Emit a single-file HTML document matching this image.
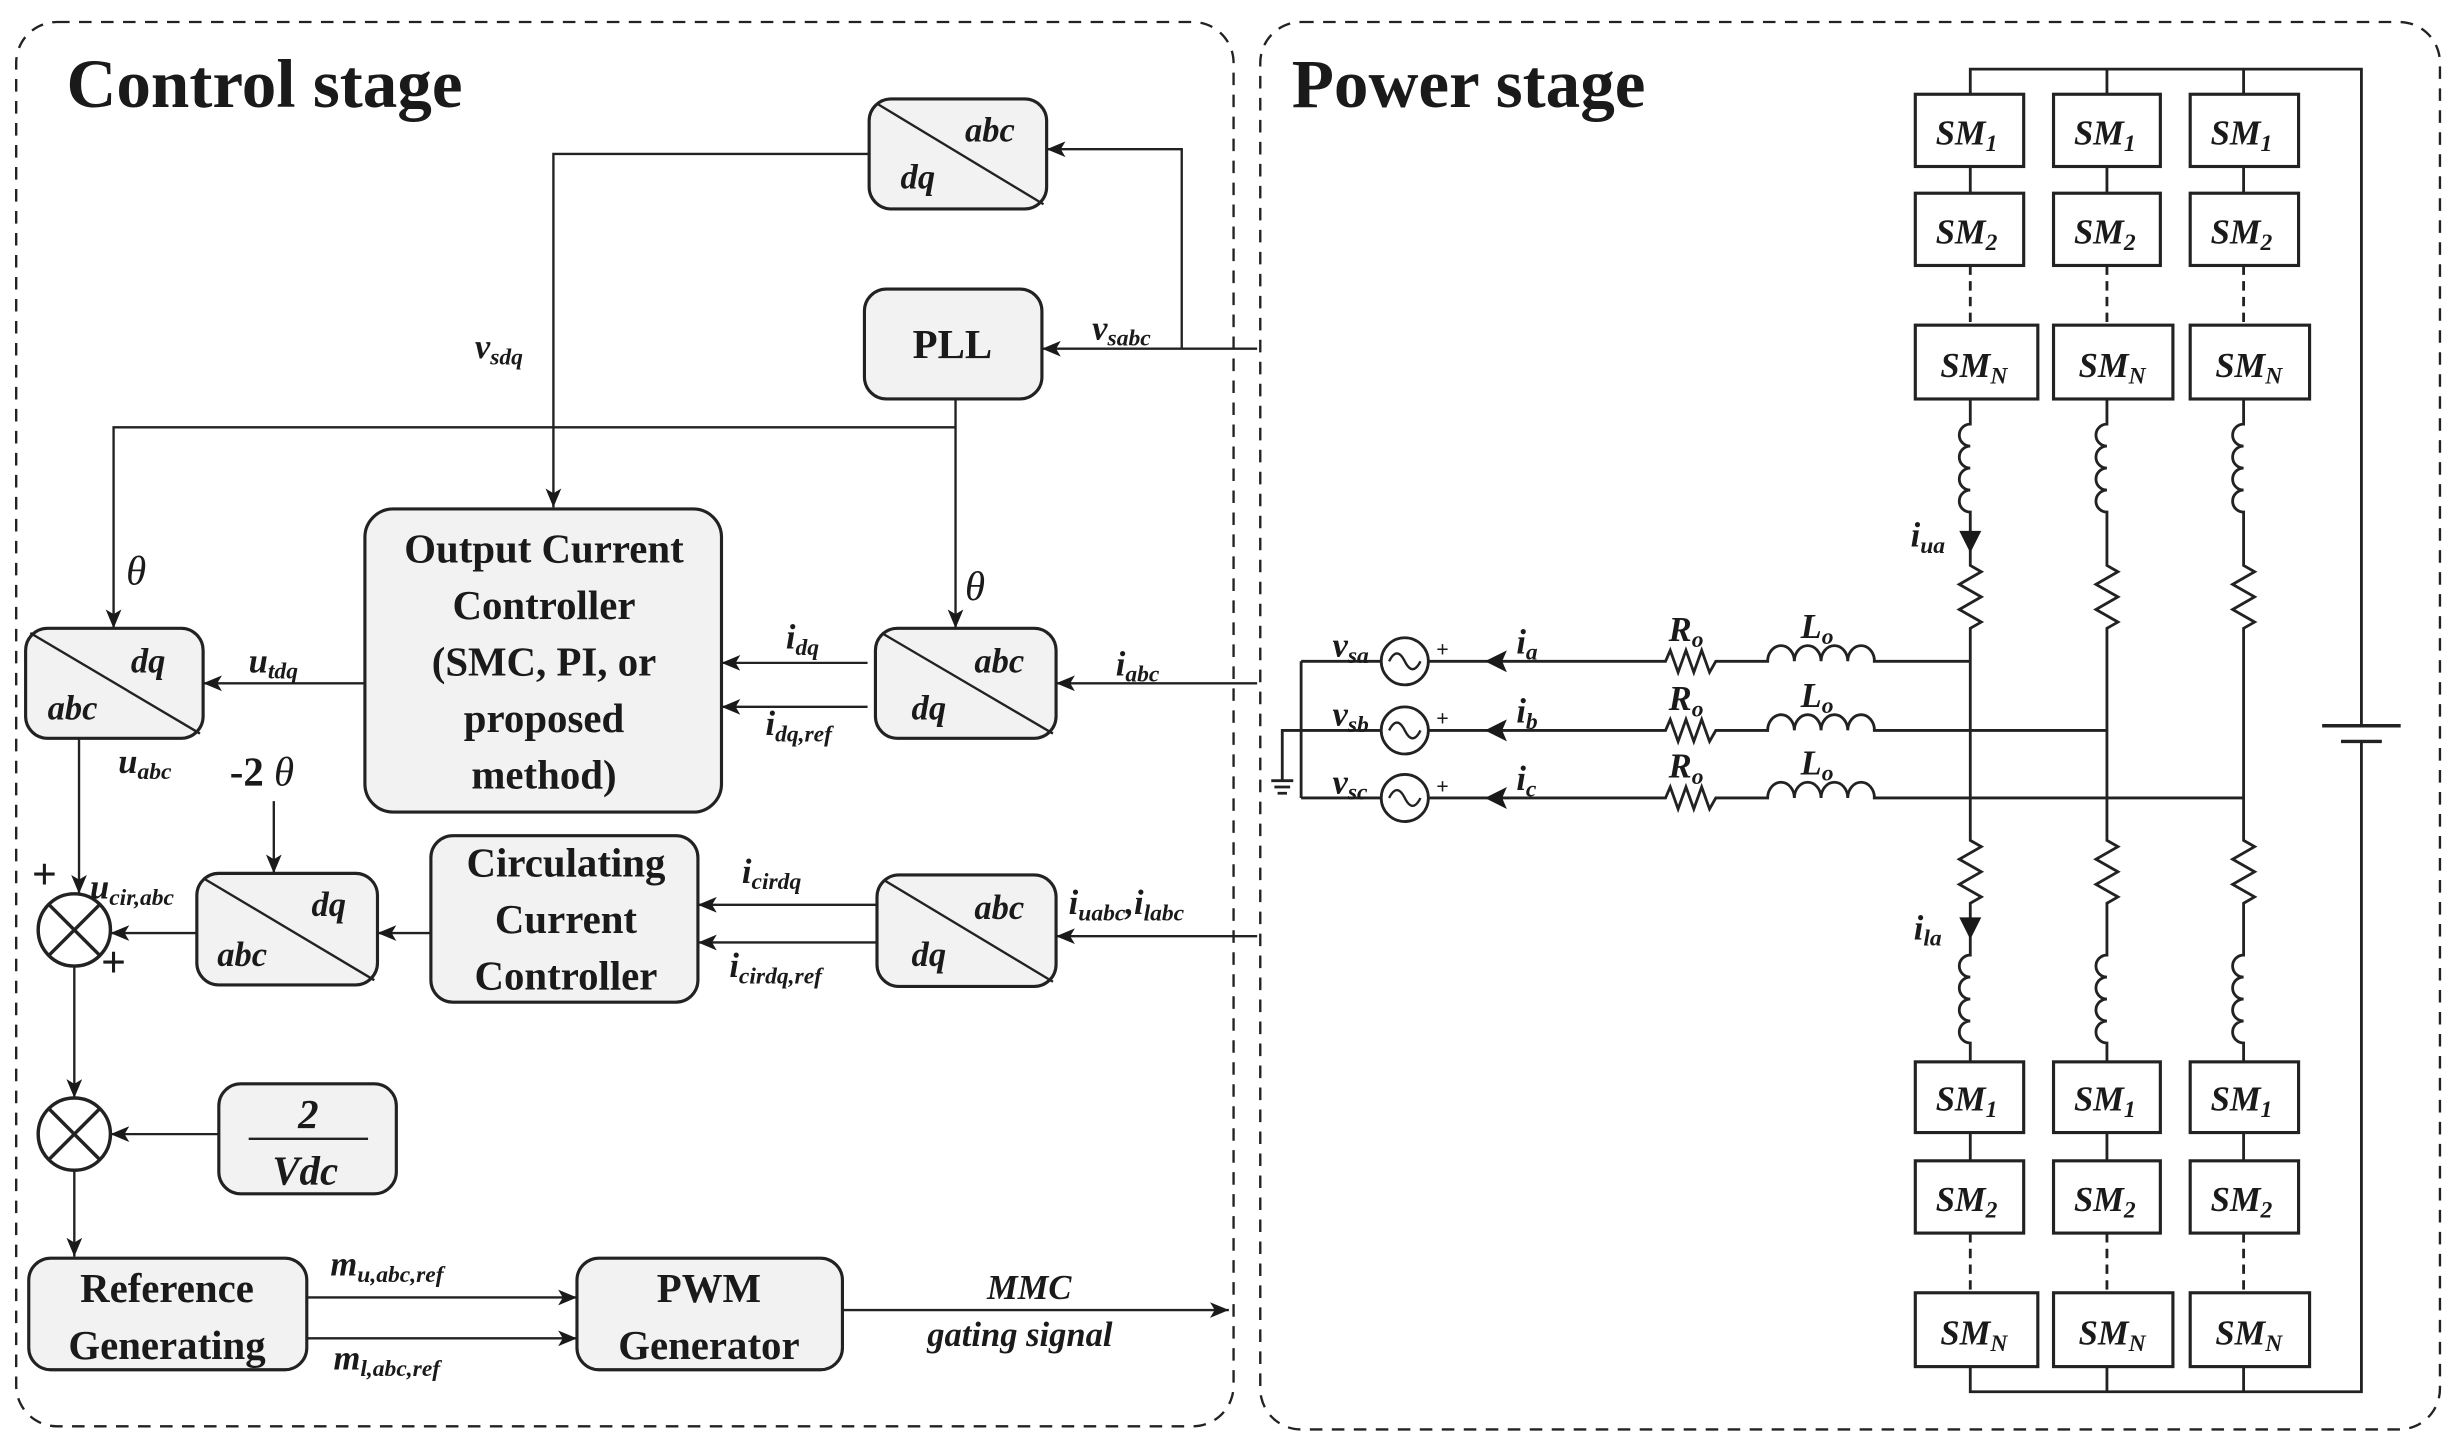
<!DOCTYPE html>
<html><head><meta charset="utf-8"><style>
html,body{margin:0;padding:0;background:#fff}
svg{display:block}
text{font-family:"Liberation Serif",serif;font-weight:bold;fill:#1a1a1a}
.t{font-size:26px;text-anchor:middle}
.i{font-style:italic;font-size:22px}
.s{font-size:15px}
</style></head><body>
<svg width="2464" height="1453" viewBox="0 0 1568 925" xmlns="http://www.w3.org/2000/svg">
<defs>
<marker id="a" viewBox="0 0 12 10" refX="12" refY="5" markerWidth="12" markerHeight="10" markerUnits="userSpaceOnUse" orient="auto"><path d="M0,0 L12,5 L0,10 L3,5 z" fill="#1a1a1a"/></marker>
</defs>
<g fill="none" stroke="#222" stroke-width="1.5" stroke-dasharray="8,6">
<rect x="10" y="14" width="775" height="894" rx="26"/>
<rect x="802" y="14" width="751" height="896" rx="26"/>
</g>
<text x="42" y="68" style="font-size:44px">Control stage</text>
<text x="822" y="68" style="font-size:44px">Power stage</text>

<g fill="#f2f2f2" stroke="#222" stroke-width="2">
<rect x="553" y="63" width="113" height="70" rx="14"/>
<rect x="550" y="184" width="113" height="70" rx="14"/>
<rect x="16" y="400" width="113" height="70" rx="14"/>
<rect x="232" y="324" width="227" height="193" rx="18"/>
<rect x="557" y="400" width="115" height="70" rx="14"/>
<rect x="125" y="556" width="115" height="71" rx="14"/>
<rect x="274" y="532" width="170" height="106" rx="14"/>
<rect x="558" y="557" width="114" height="71" rx="14"/>
<rect x="139" y="690" width="113" height="70" rx="14"/>
<rect x="18" y="801" width="177" height="71" rx="14"/>
<rect x="367" y="801" width="169" height="71" rx="14"/>
</g>
<g stroke="#222" stroke-width="1.5">
<line x1="558" y1="66" x2="664" y2="130"/>
<line x1="19" y1="403" x2="127" y2="467"/>
<line x1="561" y1="403" x2="670" y2="467"/>
<line x1="129" y1="559" x2="238" y2="624"/>
<line x1="562" y1="560" x2="670" y2="625"/>
<line x1="158" y1="725" x2="234" y2="725"/>
</g>
<text class="i" x="614" y="90">abc</text><text class="i" x="573" y="120">dq</text>
<text class="t" x="606" y="228">PLL</text>
<text class="i" x="83" y="428">dq</text><text class="i" x="30" y="458">abc</text>
<text class="i" x="620" y="428">abc</text><text class="i" x="580" y="458">dq</text>
<text class="i" x="198" y="583">dq</text><text class="i" x="138" y="615">abc</text>
<text class="i" x="620" y="585">abc</text><text class="i" x="580" y="615">dq</text>
<text class="t" x="346" y="358">Output Current</text>
<text class="t" x="346" y="394">Controller</text>
<text class="t" x="346" y="430">(SMC, PI, or</text>
<text class="t" x="346" y="466">proposed</text>
<text class="t" x="346" y="502">method)</text>
<text class="t" x="360" y="558">Circulating</text>
<text class="t" x="360" y="594">Current</text>
<text class="t" x="360" y="630">Controller</text>
<text class="t i" x="196" y="718" style="font-size:26px">2</text>
<text class="t i" x="194" y="754" style="font-size:26px">Vdc</text>
<text class="t" x="106" y="829">Reference</text>
<text class="t" x="106" y="865">Generating</text>
<text class="t" x="451" y="829">PWM</text>
<text class="t" x="451" y="865">Generator</text>

<g fill="none" stroke="#222" stroke-width="1.5" marker-end="url(#a)">
<polyline points="800,222 663,222"/>
<polyline points="752,222 752,95 666,95"/>
<polyline points="553,98 352,98 352,323"/>
<polyline points="608,254 608,272 608,400"/>
<polyline points="608,272 72,272 72,400"/>
<polyline points="232,435 129,435"/>
<polyline points="800,435 672,435"/>
<polyline points="552,422 459,422"/>
<polyline points="552,450 459,450"/>
<polyline points="50,470 50,569"/>
<polyline points="174,510 174,556"/>
<polyline points="800,596 672,596"/>
<polyline points="558,576 444,576"/>
<polyline points="558,600 444,600"/>
<polyline points="274,594 240,594"/>
<polyline points="125,594 70,594"/>
<polyline points="47,615 47,699"/>
<polyline points="139,722 70,722"/>
<polyline points="47,745 47,800"/>
<polyline points="195,826 367,826"/>
<polyline points="195,852 367,852"/>
<polyline points="536,834 782,834"/>
</g>
<g fill="#fff" stroke="#222" stroke-width="2.2">
<circle cx="47" cy="592" r="23"/><circle cx="47" cy="722" r="23"/>
</g>
<g stroke="#222" stroke-width="2.2">
<line x1="31" y1="576" x2="63" y2="608"/><line x1="63" y1="576" x2="31" y2="608"/>
<line x1="31" y1="706" x2="63" y2="738"/><line x1="63" y1="706" x2="31" y2="738"/>
</g>
<text x="20" y="566" style="font-size:28px">+</text>
<text x="64" y="622" style="font-size:28px">+</text>
<text class="i" x="695" y="216">v<tspan class="s" dy="4">sabc</tspan></text>
<text class="i" x="302" y="228">v<tspan class="s" dy="4">sdq</tspan></text>
<text class="i" x="80" y="372" style="font-size:26px;font-weight:normal">θ</text>
<text class="i" x="614" y="382" style="font-size:26px;font-weight:normal">θ</text>
<text class="i" x="158" y="428">u<tspan class="s" dy="4">tdq</tspan></text>
<text class="i" x="500" y="413">i<tspan class="s" dy="4">dq</tspan></text>
<text class="i" x="487" y="468">i<tspan class="s" dy="4">dq,ref</tspan></text>
<text class="i" x="710" y="430">i<tspan class="s" dy="4">abc</tspan></text>
<text class="i" x="75" y="492">u<tspan class="s" dy="4">abc</tspan></text>
<text x="146" y="500" style="font-size:26px">-2 <tspan style="font-style:italic;font-weight:normal">θ</tspan></text>
<text class="i" x="57" y="572">u<tspan class="s" dy="4">cir,abc</tspan></text>
<text class="i" x="472" y="562">i<tspan class="s" dy="4">cirdq</tspan></text>
<text class="i" x="464" y="622">i<tspan class="s" dy="4">cirdq,ref</tspan></text>
<text class="i" x="680" y="582">i<tspan class="s" dy="4">uabc</tspan><tspan dy="-4">,i</tspan><tspan class="s" dy="4">labc</tspan></text>
<text class="i" x="210" y="812">m<tspan class="s" dy="4">u,abc,ref</tspan></text>
<text class="i" x="212" y="872">m<tspan class="s" dy="4">l,abc,ref</tspan></text>
<text class="i" x="628" y="827">MMC</text>
<text class="i" x="590" y="857">gating signal</text>

<!-- power stage -->
<g fill="none" stroke="#222" stroke-width="1.8">
<polyline points="1254,60 1254,44 1503,44 1503,462"/>
<polyline points="1503,472 1503,886 1254,886 1254,870"/>
<line x1="1341" y1="44" x2="1341" y2="60"/><line x1="1428" y1="44" x2="1428" y2="60"/>
<line x1="1341" y1="886" x2="1341" y2="870"/><line x1="1428" y1="886" x2="1428" y2="870"/>
<line x1="1478" y1="462" x2="1528" y2="462" stroke-width="2.2"/>
<line x1="1490" y1="472" x2="1516" y2="472" stroke-width="2.2"/>
</g>
<g fill="#fff" stroke="#222" stroke-width="2">
<rect x="1219" y="60" width="69" height="46"/><rect x="1307" y="60" width="68" height="46"/><rect x="1394" y="60" width="69" height="46"/>
<rect x="1219" y="123" width="69" height="46"/><rect x="1307" y="123" width="68" height="46"/><rect x="1394" y="123" width="69" height="46"/>
<rect x="1219" y="207" width="78" height="47"/><rect x="1307" y="207" width="76" height="47"/><rect x="1394" y="207" width="76" height="47"/>
<rect x="1219" y="676" width="69" height="45"/><rect x="1307" y="676" width="68" height="45"/><rect x="1394" y="676" width="69" height="45"/>
<rect x="1219" y="739" width="69" height="46"/><rect x="1307" y="739" width="68" height="46"/><rect x="1394" y="739" width="69" height="46"/>
<rect x="1219" y="823" width="78" height="47"/><rect x="1307" y="823" width="76" height="47"/><rect x="1394" y="823" width="76" height="47"/>
</g>
<g>
<text class="i" x="1232" y="92">SM<tspan class="s" dy="4">1</tspan></text><text class="i" x="1320" y="92">SM<tspan class="s" dy="4">1</tspan></text><text class="i" x="1407" y="92">SM<tspan class="s" dy="4">1</tspan></text>
<text class="i" x="1232" y="155">SM<tspan class="s" dy="4">2</tspan></text><text class="i" x="1320" y="155">SM<tspan class="s" dy="4">2</tspan></text><text class="i" x="1407" y="155">SM<tspan class="s" dy="4">2</tspan></text>
<text class="i" x="1235" y="240">SM<tspan class="s" dy="4">N</tspan></text><text class="i" x="1323" y="240">SM<tspan class="s" dy="4">N</tspan></text><text class="i" x="1410" y="240">SM<tspan class="s" dy="4">N</tspan></text>
<text class="i" x="1232" y="707">SM<tspan class="s" dy="4">1</tspan></text><text class="i" x="1320" y="707">SM<tspan class="s" dy="4">1</tspan></text><text class="i" x="1407" y="707">SM<tspan class="s" dy="4">1</tspan></text>
<text class="i" x="1232" y="771">SM<tspan class="s" dy="4">2</tspan></text><text class="i" x="1320" y="771">SM<tspan class="s" dy="4">2</tspan></text><text class="i" x="1407" y="771">SM<tspan class="s" dy="4">2</tspan></text>
<text class="i" x="1235" y="856">SM<tspan class="s" dy="4">N</tspan></text><text class="i" x="1323" y="856">SM<tspan class="s" dy="4">N</tspan></text><text class="i" x="1410" y="856">SM<tspan class="s" dy="4">N</tspan></text>
</g>
<g fill="none" stroke="#222" stroke-width="1.8">
<path d="M1254,106V123M1341,106V123M1428,106V123M1254,721V739M1341,721V739M1428,721V739"/>
<path d="M1254,169V207M1341,169V207M1428,169V207M1254,785V823M1341,785V823M1428,785V823" stroke-dasharray="6,4"/>
</g>
<defs>
<g id="col">
<path fill="none" stroke="#222" stroke-width="1.8" d="M0,254V270 a7,7 0 0 0 0,14 a7,7 0 0 0 0,14 a7,7 0 0 0 0,14 a7,7 0 0 0 0,14 V360 l7,4 l-14,8 l14,8 l-14,8 l14,8 l-7,4 V535 l7,4 l-14,8 l14,8 l-14,8 l14,8 l-7,4 V608 a7,7 0 0 0 0,14 a7,7 0 0 0 0,14 a7,7 0 0 0 0,14 a7,7 0 0 0 0,14 V676"/>
</g>
<g id="ph">
<path fill="none" stroke="#222" stroke-width="1.8" d="M908,0H1060 l3,-7 l5,14 l5,-14 l5,14 l5,-14 l5,14 l4,-7 H1125 a8.5,10 0 0 1 17,0 a8.5,10 0 0 1 17,0 a8.5,10 0 0 1 17,0 a8.5,10 0 0 1 17,0"/>
<path d="M945,0 l14,-7 l-3,7 l3,7z" fill="#1a1a1a"/>
<circle cx="894" cy="0" r="15" fill="#fff" stroke="#222" stroke-width="1.8"/>
<path d="M884,0 q5,-10 10,0 t10,0" fill="none" stroke="#222" stroke-width="1.5"/>
<line x1="828" y1="0" x2="879" y2="0" stroke="#222" stroke-width="1.8"/>
<text x="914" y="-3" style="font-size:14px">+</text>
<text class="i" x="1062" y="-13">R<tspan class="s" dy="4">o</tspan></text>
<text class="i" x="1146" y="-15">L<tspan class="s" dy="4">o</tspan></text>
</g>
</defs>
<use href="#col" x="1254"/><use href="#col" x="1341"/><use href="#col" x="1428"/>
<use href="#ph" y="421"/><use href="#ph" y="465"/><use href="#ph" y="508"/>
<g fill="none" stroke="#222" stroke-width="1.8">
<line x1="1192" y1="421" x2="1254" y2="421"/>
<line x1="1192" y1="465" x2="1341" y2="465"/>
<line x1="1192" y1="508" x2="1428" y2="508"/>
<line x1="828" y1="421" x2="828" y2="508"/>
<polyline points="828,465 816,465 816,497"/>
<path d="M809,497h14M811,501h10M813,505h6"/>
</g>
<path d="M1254,352 l-7,-14 h14z" fill="#1a1a1a"/>
<path d="M1254,598 l-7,-14 h14z" fill="#1a1a1a"/>
<text class="i" x="1216" y="348">i<tspan class="s" dy="4">ua</tspan></text>
<text class="i" x="1218" y="598">i<tspan class="s" dy="4">la</tspan></text>
<text class="i" x="848" y="418">v<tspan class="s" dy="4">sa</tspan></text>
<text class="i" x="848" y="462">v<tspan class="s" dy="4">sb</tspan></text>
<text class="i" x="848" y="505">v<tspan class="s" dy="4">sc</tspan></text>
<text class="i" x="965" y="416">i<tspan class="s" dy="4">a</tspan></text>
<text class="i" x="965" y="460">i<tspan class="s" dy="4">b</tspan></text>
<text class="i" x="965" y="503">i<tspan class="s" dy="4">c</tspan></text>
</svg>
</body></html>
